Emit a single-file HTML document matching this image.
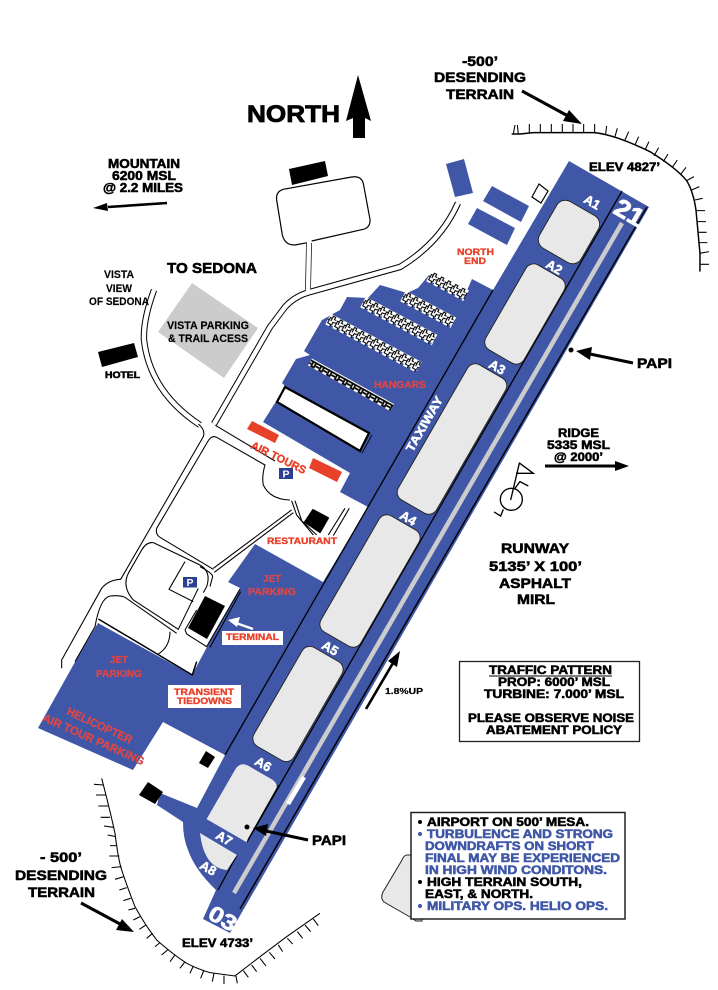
<!DOCTYPE html>
<html><head><meta charset="utf-8"><title>Airport Diagram</title>
<style>
html,body{margin:0;padding:0;background:#fff}
svg{display:block}
text{font-family:"Liberation Sans",Arial,sans-serif;font-weight:bold}
.k{fill:#000;stroke:#000;stroke-width:.55}
.b{fill:#3f57a6;stroke:#3f57a6;stroke-width:.55}
.r{fill:#e8412a;stroke:#e8412a;stroke-width:.35}
.r2{fill:#d9474a;stroke:#d9474a;stroke-width:.35}
.w{fill:#fff;stroke:#fff;stroke-width:.5}
</style></head><body>
<svg xmlns="http://www.w3.org/2000/svg" width="718" height="990" viewBox="0 0 718 990">
<defs>
<pattern id="cr" patternUnits="userSpaceOnUse" width="8" height="13" y="-6">
<rect width="8" height="13" fill="#fff"/>
<rect x="5" y="10" width="3" height="3" fill="#3f57a6"/>
<path d="M0 6H1.5V3.5H3.5V1H6V3.5H8M1.5 6V9.5H5V13M8 6.5H6V9.5M3.5 3.5V6.5" fill="none" stroke="#000" stroke-width="1.1"/>
</pattern>
<pattern id="cd" patternUnits="userSpaceOnUse" width="9" height="9" y="-4">
<rect width="9" height="9" fill="#fff"/>
<path d="M0 2H9M3 2V7H6V2M0 5H2M7 5H9" fill="none" stroke="#000" stroke-width="1.7"/>
</pattern>
</defs>
<rect width="718" height="990" fill="#fff"/>

<!-- gray block behind note -->
<path d="M412 855H407Q404 855 402 860L383 892Q380 898 384 902L410 917L416 921H422V855Z" fill="#e8e8e8" stroke="#222" stroke-width="1"/>

<!-- gray parking -->
<polygon points="192,283 258,328 224,378 158,332" fill="#ccc"/>

<!-- main blue -->
<path fill="#3f57a6" d="M569 161L649 207L230 933L203 919L216 890Q195 870 188 850Q183 838 183 822L157 805L160 793L197 808L225 755L163 722L133 770L38 728L75 662L98 623L192 675L207 647L240 588L228 582L255 544L323 582L368 507L340 492L350 473L263 422L275 403L285 386L282 383L296 359L310 355L304 351L322 320L340 310L347 297L368 298L380 285L407 293L418 288L429 275L465 295L472 279L493 290Z"/>

<!-- small blue buildings -->
<polygon fill="#3f57a6" points="446,164 464,159 473,193 455,197"/>
<polygon fill="#3f57a6" points="492,186 529,206 521,222 483,201"/>
<polygon fill="#3f57a6" points="477,208 515,228 507,245 468,224"/>
<polygon fill="#fff" stroke="#000" stroke-width="1.2" points="539,184 548,191 541,203 532,197"/>

<!-- taxi lines -->
<path d="M493 290L225 755" stroke="#000" stroke-width="1.3" fill="none"/>
<path d="M622 191L247 842M237 855L218 890" stroke="#000" stroke-width="1.3" fill="none"/>
<path d="M647 207L240 909" stroke="#000" stroke-width="1.5" fill="none"/>

<!-- centerline -->
<path d="M622 223L234 893" stroke="#ccc" stroke-width="4.5" fill="none"/>
<path d="M304 777L288 804" stroke="#fff" stroke-width="4.5" fill="none"/>

<!-- taxi blocks -->
<g fill="#e8e8e8" stroke="#222" stroke-width=".9">
<rect x="-24" y="-27" width="48" height="54" rx="10" transform="translate(569,232) rotate(30)"/>
<rect x="-22" y="-49" width="44" height="98" rx="9" transform="translate(525,314) rotate(30)"/>
<rect x="-22" y="-78" width="44" height="156" rx="9" transform="translate(452,439) rotate(30)"/>
<rect x="-23" y="-67" width="46" height="134" rx="9" transform="translate(370,581) rotate(30)"/>
<rect x="-23" y="-57" width="46" height="114" rx="9" transform="translate(298,704) rotate(30)"/>
<path d="M-23 -24Q-23 -34 -13 -34H13Q23 -34 23 -24V33H-23Z" transform="translate(243,802) rotate(30)" stroke="none"/>
<path d="M200 833L237 855L227 870Q204 868 200 833Z" stroke="none"/>
</g>
<path d="M279 785L248 840" stroke="#000" stroke-width="1.3" fill="none"/>

<!-- hangar strips -->
<rect x="0" y="-6" width="42" height="12" fill="url(#cr)" transform="translate(429,276) rotate(28)"/>
<rect x="0" y="-6" width="57" height="12" fill="url(#cr)" transform="translate(403,296) rotate(28)"/>
<rect x="0" y="-6" width="81" height="12" fill="url(#cr)" transform="translate(363,302) rotate(28)"/>
<rect x="0" y="-6" width="103" height="12" fill="url(#cr)" transform="translate(328,319) rotate(28)"/>
<rect x="0" y="-4" width="94" height="8" fill="url(#cd)" transform="translate(310,362) rotate(29)"/>
<polygon fill="#fff" stroke="#000" stroke-width="2.2" points="285,387 369,433 360,451 277,402"/>
<path d="M372 435L362 453" stroke="#000" stroke-width=".8" fill="none"/>

<!-- red air tours -->
<polygon fill="#e8412a" points="252,421 279,435 275,443 247,429"/>
<polygon fill="#e8412a" points="313,458 342,472 337,482 309,468"/>

<!-- black buildings -->
<g fill="#000">
<polygon points="289,169 325,161 328,176 292,185"/>
<polygon points="98,352 134,343 138,357 102,367"/>
<polygon points="205,596 225,606 207,639 188,628"/>
<polygon points="206,751 215,757 208,768 199,763"/>
<polygon points="148,782 163,792 155,804 139,795"/>
<polygon points="313,510 328,518 320,532 305,522" stroke="#000" stroke-width="2" stroke-linejoin="round"/>
</g>

<!-- top loop -->
<g transform="translate(80,130) scale(.3333)" fill="none" stroke="#000" stroke-width="3.6">
<path d="M695 333L850 298Q872 292 870 268L850 160Q843 136 815 141L610 178Q587 185 590 210L607 315Q615 346 645 345L682 338"/>
</g>

<!-- double-line roads -->
<g fill="none" stroke="#000" stroke-width="6.4">
<path d="M458 203Q440 243 400 267L310 292Q295 296 285 307L270 327L214 424"/>
<path d="M154 290Q143 320 144 340Q150 392 200 425"/>
</g>
<path d="M309 243L308 290" fill="none" stroke="#000" stroke-width="5.8"/>
<g fill="none" stroke="#fff" stroke-width="4.4">
<path d="M458 203Q440 243 400 267L310 292Q295 296 285 307L270 327L214 424"/>
<path d="M154 290Q143 320 144 340Q150 392 200 425"/>
<path d="M309 242L308 292"/>
</g>

<!-- thin road lines -->
<g transform="translate(30,400) scale(.3333)" fill="none" stroke="#000" stroke-width="3.2" stroke-linejoin="round">
<path d="M95 805V780L215 565Q235 540 272 538L520 110Q527 90 505 72"/>
<path d="M556 76L735 183"/>
<path d="M780 300Q720 298 700 255Q695 230 705 195L560 112Q545 105 535 122L380 385Q375 405 395 415L550 508"/>
<path d="M550 505L785 330M553 517L790 338"/>
<path d="M370 428Q350 425 335 450L295 520Q275 560 310 600L445 688L505 565"/>
<path d="M370 428L510 495Q545 515 530 560L520 578"/>
<path d="M510 500Q548 520 548 530L540 560"/>
<path d="M465 690L500 630M465 690L470 702L530 740L630 567M540 742L632 575"/>
<path d="M465 485L417 568L490 605"/>
<path d="M135 785L195 680Q210 595 240 588Q270 585 285 592L440 700"/>
<path d="M205 657L487 825L500 785" stroke-width="4.5"/>
<path d="M385 762Q420 740 420 695"/>
<path d="M785 302L800 345L850 405M795 302L815 362L860 405"/>
<path d="M945 325L895 405M958 325L910 407"/>
</g>

<!-- terrain top -->
<g transform="translate(400,60) scale(.3333)" fill="none" stroke="#000" stroke-width="3.2">
<path d="M335 222H360L400 218H580Q640 222 750 275Q830 325 860 362Q880 395 888 450L900 580V635" stroke-width="4.4"/>
<path d="M340 222L345 195M355 222L352 195M388 218V192M421 218V192M454 218V192M487 218V192M519 218V192M551 218V192M584 218V192M617 222L620 198M645 230L652 205M675 240L686 215M705 255L716 230M735 270L747 245M762 288L776 263M790 305L804 282M817 322L832 300M843 342L858 322M860 362L882 350M875 390L898 380M885 420L908 415M890 452L915 452M893 485L918 485M895 517L920 517M897 548L922 548M900 580L927 575M902 613L927 613"/>
</g>
<!-- terrain bottom -->
<g transform="translate(60,720) scale(.3333)" fill="none" stroke="#000" stroke-width="3.2">
<path d="M125 175Q150 270 165 340Q175 420 185 450Q205 510 225 560Q255 615 290 660Q335 700 380 730Q415 748 450 758L525 768L600 710L680 650L780 580"/>
<path d="M130 195L102 193M137 225L108 225M145 258L115 258M150 292L122 292M160 322L132 318M168 350L143 345M172 377L150 377M178 408L148 408M185 440L155 443M192 470L165 478M200 503L178 510M212 535L190 542M225 565L205 570M240 590L220 600M258 615L238 628M278 640L260 655M300 668L285 680M325 688L305 705M345 705L330 725M375 725L360 745M400 738L390 760M432 750L422 775M462 760L457 785M492 767V792M528 768L532 790M550 752L565 772M575 735L590 755M600 715L618 738M628 697L645 717M655 675L668 695M682 655L698 672M712 635L728 655M735 615L752 635M760 597L775 617"/>
</g>

<!-- north arrow -->
<polygon fill="#000" points="358,75 371,121 365,118 365,138 353,138 353,118 346,121"/>

<!-- arrows -->
<g fill="#000" stroke="#000">
<path d="M522 91L568 116" stroke-width="3" fill="none"/><polygon stroke="none" points="582,124 563,121 569,110"/>
<path d="M633 363L590 354" stroke-width="3" fill="none"/><polygon stroke="none" points="576,351 592,347 590,360"/>
<circle cx="571" cy="350" r="2.5" stroke="none"/>
<path d="M167 203L108 207" stroke-width="2.6" fill="none"/><polygon stroke="none" points="93,208 107,203 108,211"/>
<path d="M545 466H615" stroke-width="3" fill="none"/><polygon stroke="none" points="629,466 615,461 615,471"/>
<path d="M366 709L393 663" stroke-width="2.6" fill="none"/><polygon stroke="none" points="400,651 397,667 388,661"/>
<path d="M81 903L120 924" stroke-width="3" fill="none"/><polygon stroke="none" points="134,932 116,930 122,919"/>
<path d="M308 840L266 831" stroke-width="3" fill="none"/><polygon stroke="none" points="253,828 268,824 266,836"/>
<circle cx="247" cy="827" r="2.5" stroke="none"/>
</g>
<path d="M253 629L236 623" stroke="#fff" stroke-width="2.5" fill="none"/><polygon fill="#fff" points="228,620 240,617 237,627"/>

<!-- wind tee -->
<g transform="translate(470,420) scale(.3333)" fill="none" stroke="#000" stroke-width="4">
<circle cx="124" cy="238" r="33"/>
<path d="M122 240L148 130M147 128L190 160L138 160M135 205L150 185L175 198M100 268L92 288L72 276"/>
</g>

<!-- P signs -->
<rect x="279" y="468" width="14" height="11" fill="#2a3f94"/>
<rect x="183" y="577" width="14" height="10.5" fill="#2a3f94"/>
<text x="286" y="477.5" font-size="10.5" text-anchor="middle" fill="#fff">P</text>
<text x="190" y="586" font-size="10.5" text-anchor="middle" fill="#fff">P</text>

<!-- label boxes -->
<rect x="222" y="631" width="61" height="14" fill="#fff"/>
<rect x="168" y="685" width="73" height="23" fill="#fff"/>

<!-- note boxes -->
<rect x="459.5" y="661.5" width="180" height="80" fill="#fff" stroke="#222" stroke-width="1.3"/>
<rect x="411" y="812.5" width="214" height="106.5" fill="#fff" stroke="#222" stroke-width="1.5"/>
<path d="M489 676H612" stroke="#000" stroke-width="1"/>

<!-- black text -->
<g class="k">
<text x="247" y="122" font-size="24" textLength="93" lengthAdjust="spacingAndGlyphs" stroke-width=".8">NORTH</text>
<text x="462" y="66" font-size="14" textLength="36" lengthAdjust="spacingAndGlyphs">-500’</text>
<text x="434" y="82" font-size="14" textLength="92" lengthAdjust="spacingAndGlyphs">DESENDING</text>
<text x="446" y="99" font-size="14" textLength="68" lengthAdjust="spacingAndGlyphs">TERRAIN</text>
<text x="589" y="171" font-size="11.5" textLength="71" lengthAdjust="spacingAndGlyphs">ELEV  4827’</text>
<text x="637" y="368" font-size="14" textLength="35" lengthAdjust="spacingAndGlyphs">PAPI</text>
<text x="108" y="168" font-size="12.5" textLength="72" lengthAdjust="spacingAndGlyphs">MOUNTAIN</text>
<text x="112" y="180" font-size="12.5" textLength="64" lengthAdjust="spacingAndGlyphs">6200 MSL</text>
<text x="103" y="192" font-size="12.5" textLength="80" lengthAdjust="spacingAndGlyphs">@ 2.2 MILES</text>
<text x="167" y="273" font-size="14.5" textLength="90" lengthAdjust="spacingAndGlyphs">TO SEDONA</text>
<text x="104" y="278" font-size="11" textLength="30" lengthAdjust="spacingAndGlyphs" style="stroke-width:.15">VISTA</text>
<text x="106" y="292" font-size="11" textLength="26" lengthAdjust="spacingAndGlyphs" style="stroke-width:.15">VIEW</text>
<text x="89" y="305" font-size="11" textLength="60" lengthAdjust="spacingAndGlyphs" style="stroke-width:.15">OF SEDONA</text>
<text x="167" y="329" font-size="11" textLength="82" lengthAdjust="spacingAndGlyphs" style="stroke-width:.15">VISTA PARKING</text>
<text x="168" y="342" font-size="11" textLength="80" lengthAdjust="spacingAndGlyphs" style="stroke-width:.15">&amp; TRAIL ACESS</text>
<text x="105" y="378" font-size="9" textLength="35" lengthAdjust="spacingAndGlyphs">HOTEL</text>
<text x="558" y="437" font-size="12" textLength="41" lengthAdjust="spacingAndGlyphs">RIDGE</text>
<text x="547" y="449" font-size="12" textLength="63" lengthAdjust="spacingAndGlyphs">5335 MSL</text>
<text x="554" y="461" font-size="12" textLength="49" lengthAdjust="spacingAndGlyphs">@ 2000’</text>
<text x="501" y="553" font-size="14" textLength="68" lengthAdjust="spacingAndGlyphs">RUNWAY</text>
<text x="489" y="571" font-size="14" textLength="93" lengthAdjust="spacingAndGlyphs">5135’ X 100’</text>
<text x="499" y="588" font-size="14" textLength="72" lengthAdjust="spacingAndGlyphs">ASPHALT</text>
<text x="517" y="604" font-size="14" textLength="38" lengthAdjust="spacingAndGlyphs">MIRL</text>
<text x="385" y="694" font-size="8.5" textLength="38" lengthAdjust="spacingAndGlyphs" style="stroke-width:.2">1.8%UP</text>
<text x="489" y="674" font-size="12" textLength="123" lengthAdjust="spacingAndGlyphs">TRAFFIC PATTERN</text>
<text x="498" y="686" font-size="12" textLength="112" lengthAdjust="spacingAndGlyphs">PROP: 6000’ MSL</text>
<text x="484" y="698" font-size="12" textLength="140" lengthAdjust="spacingAndGlyphs">TURBINE: 7.000’ MSL</text>
<text x="468" y="722" font-size="12" textLength="166" lengthAdjust="spacingAndGlyphs">PLEASE OBSERVE NOISE</text>
<text x="486" y="734" font-size="12" textLength="136" lengthAdjust="spacingAndGlyphs">ABATEMENT POLICY</text>
<text x="312" y="845" font-size="14" textLength="34" lengthAdjust="spacingAndGlyphs">PAPI</text>
<text x="40" y="862" font-size="14" textLength="42" lengthAdjust="spacingAndGlyphs">- 500’</text>
<text x="15" y="880" font-size="14" textLength="92" lengthAdjust="spacingAndGlyphs">DESENDING</text>
<text x="28" y="897" font-size="14" textLength="67" lengthAdjust="spacingAndGlyphs">TERRAIN</text>
<text x="182" y="947" font-size="11.5" textLength="71" lengthAdjust="spacingAndGlyphs">ELEV  4733’</text>
<text x="427" y="826" font-size="12" textLength="162" lengthAdjust="spacingAndGlyphs">AIRPORT ON 500’ MESA.</text>
<text x="427" y="886" font-size="12" textLength="155" lengthAdjust="spacingAndGlyphs">HIGH TERRAIN SOUTH,</text>
<text x="425" y="898" font-size="12" textLength="108" lengthAdjust="spacingAndGlyphs">EAST, &amp; NORTH.</text>
</g>
<circle cx="420" cy="822" r="2" fill="#000"/>
<circle cx="420" cy="882" r="2" fill="#000"/>
<circle cx="420" cy="834" r="2" fill="#3f57a6"/>
<circle cx="420" cy="906" r="2" fill="#3f57a6"/>

<!-- blue note text -->
<g class="b">
<text x="427" y="838" font-size="12" textLength="186" lengthAdjust="spacingAndGlyphs">TURBULENCE AND STRONG</text>
<text x="425" y="850" font-size="12" textLength="169" lengthAdjust="spacingAndGlyphs">DOWNDRAFTS ON SHORT</text>
<text x="425" y="862" font-size="12" textLength="195" lengthAdjust="spacingAndGlyphs">FINAL MAY BE EXPERIENCED</text>
<text x="425" y="874" font-size="12" textLength="182" lengthAdjust="spacingAndGlyphs">IN HIGH WIND CONDITONS.</text>
<text x="427" y="910" font-size="12" textLength="181" lengthAdjust="spacingAndGlyphs">MILITARY OPS. HELIO OPS.</text>
</g>

<!-- red text -->
<g class="r">
<text x="457" y="255" font-size="9.5" textLength="37" lengthAdjust="spacingAndGlyphs">NORTH</text>
<text x="464" y="264" font-size="9.5" textLength="22" lengthAdjust="spacingAndGlyphs">END</text>
<text x="267" y="544" font-size="9.5" textLength="70" lengthAdjust="spacingAndGlyphs">RESTAURANT</text>
<text x="226" y="640" font-size="9.5" textLength="53" lengthAdjust="spacingAndGlyphs">TERMINAL</text>
<text x="174" y="695" font-size="9.5" textLength="60" lengthAdjust="spacingAndGlyphs">TRANSIENT</text>
<text x="177" y="704" font-size="9.5" textLength="55" lengthAdjust="spacingAndGlyphs">TIEDOWNS</text>
<text font-size="11" text-anchor="middle" textLength="60" lengthAdjust="spacingAndGlyphs" transform="translate(277,461) rotate(26)">AIR TOURS</text>
</g>
<g class="r2">
<text x="374" y="388" font-size="10.5" textLength="52" lengthAdjust="spacingAndGlyphs">HANGARS</text>
<text x="263" y="582" font-size="10.5" textLength="18" lengthAdjust="spacingAndGlyphs">JET</text>
<text x="248" y="595" font-size="10.5" textLength="48" lengthAdjust="spacingAndGlyphs">PARKING</text>
<text x="110" y="663" font-size="10.5" textLength="18" lengthAdjust="spacingAndGlyphs">JET</text>
<text x="96" y="677" font-size="10.5" textLength="46" lengthAdjust="spacingAndGlyphs">PARKING</text>
<text font-size="11.5" text-anchor="middle" textLength="71" lengthAdjust="spacingAndGlyphs" transform="translate(98,729) rotate(25)">HELICOPTER</text>
<text font-size="11.5" text-anchor="middle" textLength="110" lengthAdjust="spacingAndGlyphs" transform="translate(92,743) rotate(24)">AIR TOUR PARKING</text>
</g>

<!-- white runway labels -->
<g class="w">
<text font-size="13" text-anchor="middle" transform="translate(590,206) rotate(30)">A1</text>
<text font-size="13" text-anchor="middle" transform="translate(552,271) rotate(30)">A2</text>
<text font-size="13" text-anchor="middle" transform="translate(495,371) rotate(30)">A3</text>
<text font-size="13" text-anchor="middle" transform="translate(406,522) rotate(30)">A4</text>
<text font-size="13" text-anchor="middle" transform="translate(328,652) rotate(30)">A5</text>
<text font-size="13" text-anchor="middle" transform="translate(261,768) rotate(30)">A6</text>
<text font-size="13" text-anchor="middle" transform="translate(222,842) rotate(30)">A7</text>
<text font-size="13" text-anchor="middle" transform="translate(206,872) rotate(30)">A8</text>
<text font-size="12" text-anchor="middle" textLength="62" lengthAdjust="spacingAndGlyphs" transform="translate(428,426) rotate(-60)">TAXIWAY</text>
<text font-size="25" text-anchor="middle" textLength="30" lengthAdjust="spacingAndGlyphs" style="stroke-width:.8" transform="translate(625,220) rotate(30)">21</text>
<text font-size="22" text-anchor="middle" textLength="29" lengthAdjust="spacingAndGlyphs" style="stroke-width:.6" transform="translate(219,925) rotate(30)">03</text>
</g>
</svg>
</body></html>
